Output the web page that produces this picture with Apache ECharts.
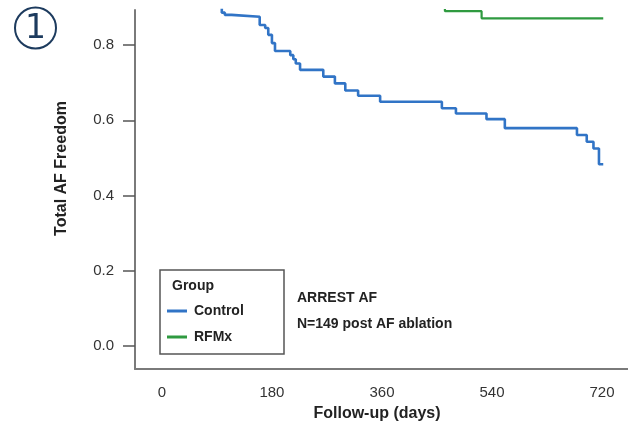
<!DOCTYPE html>
<html>
<head>
<meta charset="utf-8">
<script src="https://cdn.jsdelivr.net/npm/echarts@6/dist/echarts.min.js"></script>
<style>html,body{margin:0;padding:0;background:#fff;}#c{width:628px;height:427px;}</style>
</head>
<body>
<div id="c"></div>
<script>
const controlDays = [0, 98, 103, 114, 160, 169, 174, 180, 185, 210, 215, 219, 226, 264, 283, 300, 321, 357, 458, 481, 531, 561, 679, 695, 706, 715, 722];
const controlSurv = [1.0, 0.886, 0.880, 0.875, 0.853, 0.845, 0.827, 0.805, 0.784, 0.773, 0.762, 0.751, 0.734, 0.716, 0.698, 0.679, 0.665, 0.649, 0.632, 0.618, 0.603, 0.579, 0.561, 0.543, 0.525, 0.483, 0.483];
const rfmxDays = [0, 463, 523, 722];
const rfmxSurv = [1.0, 0.890, 0.871, 0.871];
const xTicks = [0, 180, 360, 540, 720];
const yTicks = [0, 0.2, 0.4, 0.6, 0.8];
const seriesNames = ['Control', 'RFMx'];
const seriesColors = ['#3174c6', '#2f9a40'];

const chart = echarts.init(document.getElementById('c'), null, {renderer: 'canvas'});
const FONT = 'Liberation Sans, Arial, sans-serif';
const toPairs = (xs, ys) => xs.map((x, i) => [x, ys[i]]);

chart.setOption({
  animation: false,
  backgroundColor: '#ffffff',
  grid: {left: 135, right: 0, top: 10, bottom: 58, containLabel: false},
  xAxis: {
    type: 'value', min: -44, max: 762.5,
    splitLine: {show: false},
    axisLine: {show: true, onZero: false, lineStyle: {color: '#7a7a7a', width: 2}},
    axisTick: {show: false},
    axisLabel: {customValues: xTicks, color: '#333', fontSize: 15, fontFamily: FONT, margin: 16}
  },
  yAxis: {
    type: 'value', min: -0.061, max: 0.893,
    splitLine: {show: false},
    axisLine: {show: true, onZero: false, lineStyle: {color: '#7a7a7a', width: 2}},
    axisTick: {show: true, customValues: yTicks, length: 12, lineStyle: {color: '#555', width: 1.5}},
    axisLabel: {customValues: yTicks, color: '#333', fontSize: 15, fontFamily: FONT, margin: 21,
      formatter: v => v.toFixed(1)}
  },
  legend: {
    data: seriesNames, orient: 'vertical', left: 167, top: 304, padding: 0,
    icon: 'rect', itemWidth: 20, itemHeight: 3, itemGap: 12,
    textStyle: {fontSize: 14, fontWeight: 'bold', color: '#222', fontFamily: FONT, padding: [0, 0, 0, 2]}
  },
  series: [
    {name: seriesNames[0], type: 'line', step: 'end', symbol: 'none', data: toPairs(controlDays, controlSurv),
      lineStyle: {color: seriesColors[0], width: 2.6}, itemStyle: {color: seriesColors[0]}},
    {name: seriesNames[1], type: 'line', step: 'end', symbol: 'none', data: toPairs(rfmxDays, rfmxSurv),
      lineStyle: {color: seriesColors[1], width: 2.2}, itemStyle: {color: seriesColors[1]}}
  ],
  graphic: [
    {type: 'circle', shape: {cx: 35.5, cy: 28, r: 20.5}, style: {fill: 'none', stroke: '#1d3b5e', lineWidth: 2}},
    {type: 'text', x: 35.5, y: 29, style: {text: '1', font: '33px DejaVu Sans', fill: '#1d3b5e', align: 'center', verticalAlign: 'middle'}},
    {type: 'text', x: 62, y: 168.5, rotation: Math.PI / 2,
      style: {text: 'Total AF Freedom', font: 'bold 16px ' + FONT, fill: '#222', align: 'center', verticalAlign: 'middle'}},
    {type: 'text', x: 377, y: 414,
      style: {text: 'Follow-up (days)', font: 'bold 16px ' + FONT, fill: '#222', align: 'center', verticalAlign: 'middle'}},
    {type: 'rect', shape: {x: 160, y: 270, width: 124, height: 84}, style: {fill: 'none', stroke: '#555', lineWidth: 1.5}},
    {type: 'text', x: 172, y: 286,
      style: {text: 'Group', font: 'bold 14px ' + FONT, fill: '#222', align: 'left', verticalAlign: 'middle'}},
    {type: 'text', x: 297, y: 298,
      style: {text: 'ARREST AF', font: 'bold 14px ' + FONT, fill: '#222', align: 'left', verticalAlign: 'middle'}},
    {type: 'text', x: 297, y: 324,
      style: {text: 'N=149 post AF ablation', font: 'bold 14px ' + FONT, fill: '#222', align: 'left', verticalAlign: 'middle'}}
  ]
});
</script>
</body>
</html>
